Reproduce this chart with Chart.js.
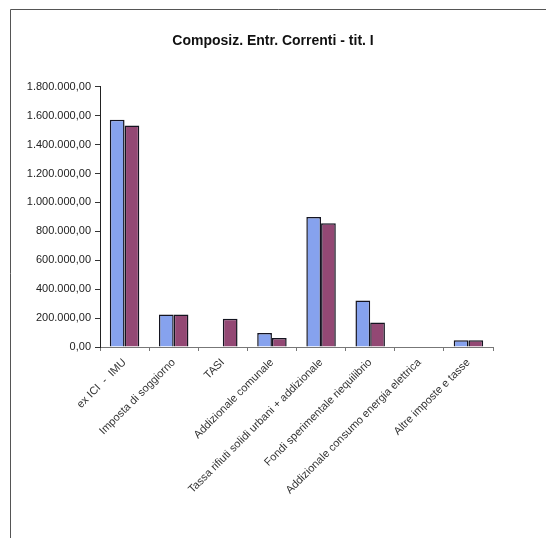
<!DOCTYPE html>
<html>
<head>
<meta charset="utf-8">
<script src="https://cdn.jsdelivr.net/npm/chart.js@4/dist/chart.umd.min.js"></script>
<style>
html,body{margin:0;padding:0;background:#fff;}
#wrap{position:absolute;left:0;top:0;width:546px;height:538px;}
</style>
</head>
<body>
<div id="wrap"><canvas id="c" width="546" height="538"></canvas></div>
<script>
const categories = [
  "ex ICI  -  IMU",
  "Imposta di soggiorno",
  "TASI",
  "Addizionale comunale",
  "Tassa rifiuti solidi urbani + addizionale",
  "Fondi sperimentale riequilibrio",
  "Addizionale consumo energia elettrica",
  "Altre imposte e tasse"
];
const series1 = [1572000, 225000, 0, 96000, 899000, 321000, 0, 46000];
const series2 = [1533000, 225000, 195000, 62000, 856000, 170000, 0, 46000];
const yMin = 0, yMax = 1800000, yStep = 200000;

function fmtIt(v){
  const s = Math.round(v).toString().replace(/\B(?=(\d{3})+(?!\d))/g, ".");
  return s + ",00";
}

const framePlugin = {
  id: 'frame',
  afterDraw(chart){
    const ctx = chart.ctx;
    ctx.save();
    ctx.strokeStyle = '#555';
    ctx.lineWidth = 1;
    ctx.beginPath();
    ctx.moveTo(10.5, 538);
    ctx.lineTo(10.5, 9.5);
    ctx.lineTo(546, 9.5);
    ctx.stroke();
    ctx.restore();
  }
};

const FONT = 'Liberation Sans, Arial, sans-serif';

new Chart(document.getElementById('c'), {
  type: 'bar',
  data: {
    labels: categories,
    datasets: [
      {label: 'A', data: series1, backgroundColor: '#86a2ee', borderColor: '#141420', borderWidth: 1.5, categoryPercentage: 0.6, barPercentage: 1.0},
      {label: 'B', data: series2, backgroundColor: '#934874', borderColor: '#141420', borderWidth: 1.5, categoryPercentage: 0.6, barPercentage: 1.0}
    ]
  },
  options: {
    responsive: false,
    animation: false,
    layout: {padding: {left: 0, right: 0, top: 0, bottom: 0}},
    plugins: {
      legend: {display: false},
      tooltip: {enabled: false},
      title: {
        display: true,
        text: 'Composiz. Entr. Correnti - tit. I',
        color: '#111',
        font: {family: FONT, size: 14, weight: 'bold'},
        padding: {top: 33, bottom: 37}
      }
    },
    scales: {
      x: {
        grid: {display: true, drawOnChartArea: false, drawTicks: true, tickLength: 4, color: '#777', offset: true},
        border: {display: true, color: '#777', width: 1},
        ticks: {
          maxRotation: 45, minRotation: 45, autoSkip: false,
          color: '#333', padding: 5,
          font: {family: FONT, size: 11}
        },
        afterFit(scale){ scale.height = 191; }
      },
      y: {
        min: yMin, max: yMax,
        grid: {display: true, drawOnChartArea: false, drawTicks: true, tickLength: 5, color: '#333'},
        border: {display: true, color: '#222', width: 1},
        ticks: {
          stepSize: yStep, color: '#222', padding: 4,
          font: {family: FONT, size: 11},
          callback: (v) => fmtIt(v)
        },
        afterFit(scale){ scale.width = 100; }
      },
      yPad: {
        position: 'right',
        display: true,
        min: yMin, max: yMax,
        grid: {display: false, drawTicks: false},
        border: {display: false},
        ticks: {display: false},
        afterFit(scale){ scale.width = 53; }
      }
    }
  },
  plugins: [framePlugin]
});
</script>
</body>
</html>
